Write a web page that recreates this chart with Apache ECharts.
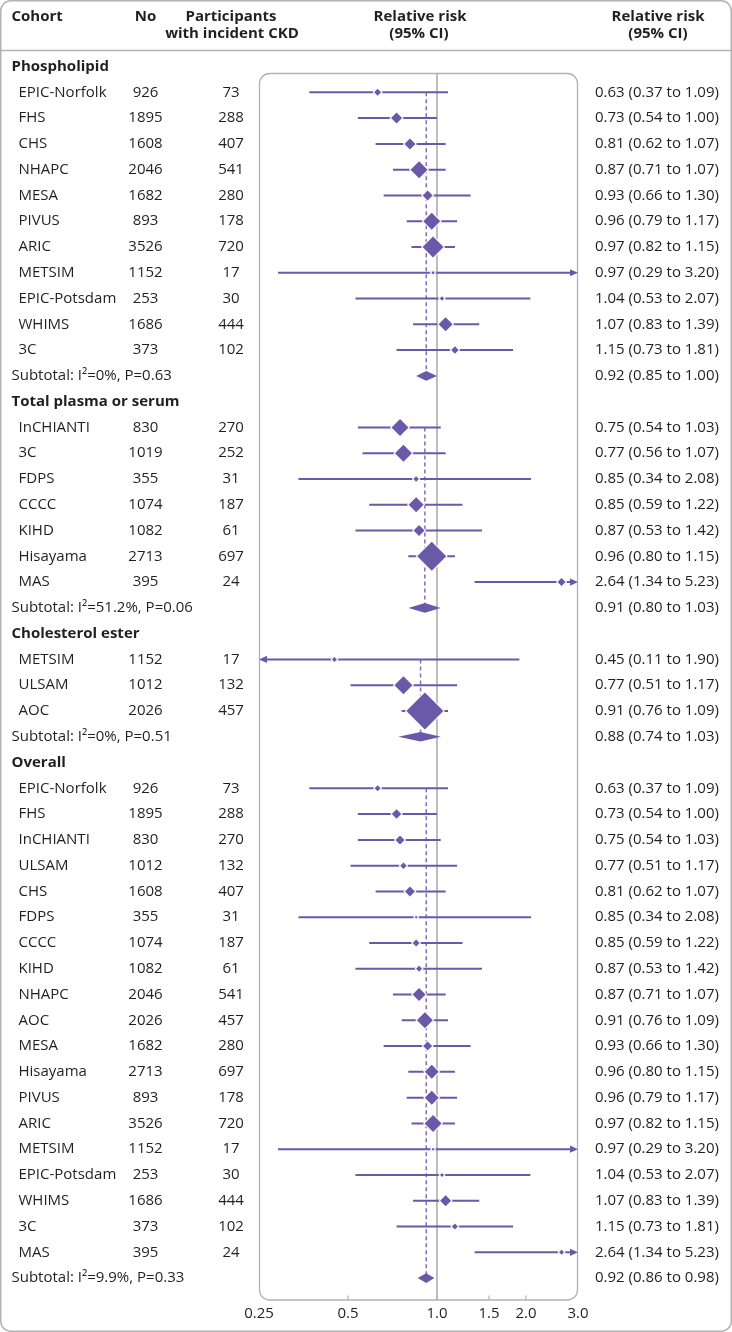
<!DOCTYPE html>
<html><head><meta charset="utf-8">
<script src="https://cdn.jsdelivr.net/npm/echarts@6/dist/echarts.min.js"></script>
<style>html,body{margin:0;padding:0;background:#fff}#c{width:732px;height:1332px}</style>
</head><body><div id="c"></div>
<script>
// ---------------- DATA ----------------
// kind: h = section header, s = study, t = subtotal
const rowKind = [
  'h','s','s','s','s','s','s','s','s','s','s','s','t',
  'h','s','s','s','s','s','s','s','t',
  'h','s','s','s','t',
  'h','s','s','s','s','s','s','s','s','s','s','s','s','s','s','s','s','s','s','s','t'
];
const rowLabels = [
  'Phospholipid','EPIC-Norfolk','FHS','CHS','NHAPC','MESA','PIVUS','ARIC','METSIM','EPIC-Potsdam','WHIMS','3C','Subtotal: I\u00B2=0%, P=0.63',
  'Total plasma or serum','InCHIANTI','3C','FDPS','CCCC','KIHD','Hisayama','MAS','Subtotal: I\u00B2=51.2%, P=0.06',
  'Cholesterol ester','METSIM','ULSAM','AOC','Subtotal: I\u00B2=0%, P=0.51',
  'Overall','EPIC-Norfolk','FHS','InCHIANTI','ULSAM','CHS','FDPS','CCCC','KIHD','NHAPC','AOC','MESA','Hisayama','PIVUS','ARIC','METSIM','EPIC-Potsdam','WHIMS','3C','MAS','Subtotal: I\u00B2=9.9%, P=0.33'
];
const rowN = [
  null,926,1895,1608,2046,1682,893,3526,1152,253,1686,373,null,
  null,830,1019,355,1074,1082,2713,395,null,
  null,1152,1012,2026,null,
  null,926,1895,830,1012,1608,355,1074,1082,2046,2026,1682,2713,893,3526,1152,253,1686,373,395,null
];
const rowCases = [
  null,73,288,407,541,280,178,720,17,30,444,102,null,
  null,270,252,31,187,61,697,24,null,
  null,17,132,457,null,
  null,73,288,270,132,407,31,187,61,541,457,280,697,178,720,17,30,444,102,24,null
];
const rowRR = [
  null,0.63,0.73,0.81,0.87,0.93,0.96,0.97,0.97,1.04,1.07,1.15,0.92,
  null,0.75,0.77,0.85,0.85,0.87,0.96,2.64,0.91,
  null,0.45,0.77,0.91,0.88,
  null,0.63,0.73,0.75,0.77,0.81,0.85,0.85,0.87,0.87,0.91,0.93,0.96,0.96,0.97,0.97,1.04,1.07,1.15,2.64,0.92
];
const rowLo = [
  null,0.37,0.54,0.62,0.71,0.66,0.79,0.82,0.29,0.53,0.83,0.73,0.85,
  null,0.54,0.56,0.34,0.59,0.53,0.80,1.34,0.80,
  null,0.11,0.51,0.76,0.74,
  null,0.37,0.54,0.54,0.51,0.62,0.34,0.59,0.53,0.71,0.76,0.66,0.80,0.79,0.82,0.29,0.53,0.83,0.73,1.34,0.86
];
const rowHi = [
  null,1.09,1.00,1.07,1.07,1.30,1.17,1.15,3.20,2.07,1.39,1.81,1.00,
  null,1.03,1.07,2.08,1.22,1.42,1.15,5.23,1.03,
  null,1.90,1.17,1.09,1.03,
  null,1.09,1.00,1.03,1.17,1.07,2.08,1.22,1.42,1.07,1.09,1.30,1.15,1.17,1.15,3.20,2.07,1.39,1.81,5.23,0.98
];
// study weight shown as marker size (px)
const rowWeight = [
  null,7,11,11,17,10,17,21,3.5,4.5,14,7.5,null,
  null,17,17,5.5,15,11,29,8,null,
  null,5,18,37,null,
  null,6,9.5,9,6.5,10,3,7,6,13,16,9,14,14,17,3,4,11,6,5,null
];
const tickValues = [0.25, 0.5, 1.0, 1.5, 2.0, 3.0];
const tickLabels = ['0.25', '0.5', '1.0', '1.5', '2.0', '3.0'];

// ---------------- LAYOUT / STYLE ----------------
const X_MIN = 0.25, X_MAX = 3.0;
const Y_MIN = 0.25, Y_MAX = 47.85;
const PURPLE = '#6a59a9', DASH = '#7e6fbb', GREY = '#b3b3b3', REF = '#a8a8a8', TEXT = '#231f20';
const FONT = '"Open Sans", "DejaVu Sans", sans-serif';
const FS = 15;
const COL = { head: 11.5, name: 18.5, no: 145.5, cases: 231, ci: 595 };
const GRID = { left: 259, right: 154, top: 73, bottom: 32 };

function ciText(i) {
  return rowRR[i].toFixed(2) + ' (' + rowLo[i].toFixed(2) + ' to ' + rowHi[i].toFixed(2) + ')';
}

function txt(text, x, y, align, weight) {
  return { type: 'text', style: { text: text, x: x, y: y, align: align, verticalAlign: 'middle',
    fill: TEXT, fontSize: FS, fontFamily: FONT, fontWeight: weight } };
}

function renderTable(params, api) {
  const i = api.value(1);
  const y = api.coord([1, i])[1];
  const k = rowKind[i];
  const ch = [];
  if (k === 'h') {
    ch.push(txt(rowLabels[i], COL.head, y, 'left', 'bold'));
  } else if (k === 't') {
    ch.push(txt(rowLabels[i], COL.head, y, 'left', 'normal'));
    ch.push(txt(ciText(i), COL.ci, y, 'left', 'normal'));
  } else {
    ch.push(txt(rowLabels[i], COL.name, y, 'left', 'normal'));
    ch.push(txt(String(rowN[i]), COL.no, y, 'center', 'normal'));
    ch.push(txt(String(rowCases[i]), COL.cases, y, 'center', 'normal'));
    ch.push(txt(ciText(i), COL.ci, y, 'left', 'normal'));
  }
  return { type: 'group', children: ch };
}

function renderForest(params, api) {
  const i = api.value(1);
  const cs = params.coordSys;
  const c = api.coord([rowRR[i], i]);
  const x = c[0], y = c[1];
  const xl = api.coord([Math.max(rowLo[i], X_MIN), i])[0];
  const xh = api.coord([Math.min(rowHi[i], X_MAX), i])[0];
  if (rowKind[i] === 't') {
    const h = 4.8;
    return { type: 'polygon', shape: { points: [[xl, y], [x, y - h], [xh, y], [x, y + h]] },
      style: { fill: PURPLE } };
  }
  const ch = [];
  const AL = 7, AH = 3.6;
  const arrowL = rowLo[i] < X_MIN, arrowR = rowHi[i] > X_MAX;
  ch.push({ type: 'line', shape: { x1: arrowL ? xl + AL : xl, y1: y, x2: arrowR ? xh - AL : xh, y2: y },
    style: { stroke: PURPLE, lineWidth: 2 } });
  if (arrowL) ch.push({ type: 'polygon', shape: { points: [[xl, y], [xl + AL + 1, y - AH], [xl + AL + 1, y + AH]] }, style: { fill: PURPLE } });
  if (arrowR) ch.push({ type: 'polygon', shape: { points: [[xh, y], [xh - AL - 1, y - AH], [xh - AL - 1, y + AH]] }, style: { fill: PURPLE } });
  const s = rowWeight[i] / 2;
  const w = s + 1.6;
  ch.push({ type: 'polygon', shape: { points: [[x - w, y], [x, y - w], [x + w, y], [x, y + w]] }, style: { fill: '#fff' } });
  ch.push({ type: 'polygon', shape: { points: [[x - s, y], [x, y - s], [x + s, y], [x, y + s]] }, style: { fill: PURPLE } });
  return { type: 'group', children: ch };
}

function renderDash(params, api) {
  const rr = api.value(0), a = api.value(1), b = api.value(2);
  const p1 = api.coord([rr, a]), p2 = api.coord([rr, b]);
  return { type: 'line', shape: { x1: p1[0], y1: p1[1], x2: p2[0], y2: p2[1] },
    style: { stroke: DASH, lineWidth: 1.5, lineDash: [4, 3] } };
}

function renderTicks(params, api) {
  const v = api.value(0);
  const p = api.coord([v, Y_MAX]);
  const ch = [];
  if (v > X_MIN && v < X_MAX) {
    ch.push({ type: 'line', shape: { x1: p[0], y1: p[1], x2: p[0], y2: p[1] - 4.5 }, style: { stroke: GREY, lineWidth: 1.2 } });
  }
  ch.push({ type: 'text', style: { text: tickLabels[api.value(2)], x: p[0], y: p[1] + 13.5, align: 'center', verticalAlign: 'middle',
    fill: TEXT, fontSize: FS, fontFamily: FONT } });
  return { type: 'group', children: ch };
}

// derived data for series
const tableData = rowKind.map((k, i) => [1, i]);
const forestData = [];
rowKind.forEach((k, i) => { if (k !== 'h') forestData.push([rowRR[i], i]); });
const dashData = [];
let secStart = null;
rowKind.forEach((k, i) => {
  if (k === 'h') secStart = i + 1;
  if (k === 't') dashData.push([rowRR[i], secStart, i]);
});
const tickData = tickValues.map((v, j) => [v, Y_MAX, j]);

function headText(text, x, y, align) {
  return { type: 'text', style: { text: text, x: x, y: y, align: align, verticalAlign: 'middle',
    fill: TEXT, fontSize: FS, fontFamily: FONT, fontWeight: 'bold' }, z: 10 };
}

const chart = echarts.init(document.getElementById('c'), null, { renderer: 'canvas' });
chart.setOption({
  animation: false,
  backgroundColor: '#fff',
  grid: { left: GRID.left, right: GRID.right, top: GRID.top, bottom: GRID.bottom, containLabel: false },
  xAxis: { type: 'log', logBase: 10, min: X_MIN, max: X_MAX, show: false },
  yAxis: { type: 'value', inverse: true, min: Y_MIN, max: Y_MAX, show: false },
  graphic: [
    { type: 'rect', shape: { x: 0.75, y: 0.75, width: 730.5, height: 1330.5, r: 10 }, style: { fill: 'none', stroke: GREY, lineWidth: 1.5 }, z: 0 },
    { type: 'line', shape: { x1: 1, y1: 50.5, x2: 731, y2: 50.5 }, style: { stroke: GREY, lineWidth: 1.5 }, z: 0 },
    { type: 'rect', shape: { x: 259.5, y: 73.5, width: 318, height: 1226.5, r: 10 }, style: { fill: 'none', stroke: GREY, lineWidth: 1.3 }, z: 0 },
    headText('Cohort', 11.5, 17, 'left'),
    headText('No', 145.5, 17, 'center'),
    headText('Participants', 231, 17, 'center'),
    headText('with incident CKD', 232, 34, 'center'),
    headText('Relative risk', 420, 17, 'center'),
    headText('(95% CI)', 419, 34, 'center'),
    headText('Relative risk', 658, 17, 'center'),
    headText('(95% CI)', 658, 34, 'center')
  ],
  series: [
    { type: 'line', data: [[1, Y_MIN], [1, Y_MAX]], symbol: 'none', lineStyle: { color: REF, width: 1.5 }, z: 1, silent: true },
    { type: 'custom', renderItem: renderDash, data: dashData, z: 2, silent: true },
    { type: 'custom', renderItem: renderForest, data: forestData, z: 3, silent: true },
    { type: 'custom', renderItem: renderTicks, data: tickData, z: 4, clip: false, silent: true },
    { type: 'custom', renderItem: renderTable, data: tableData, z: 5, clip: false, silent: true }
  ]
});
</script>
</body></html>
